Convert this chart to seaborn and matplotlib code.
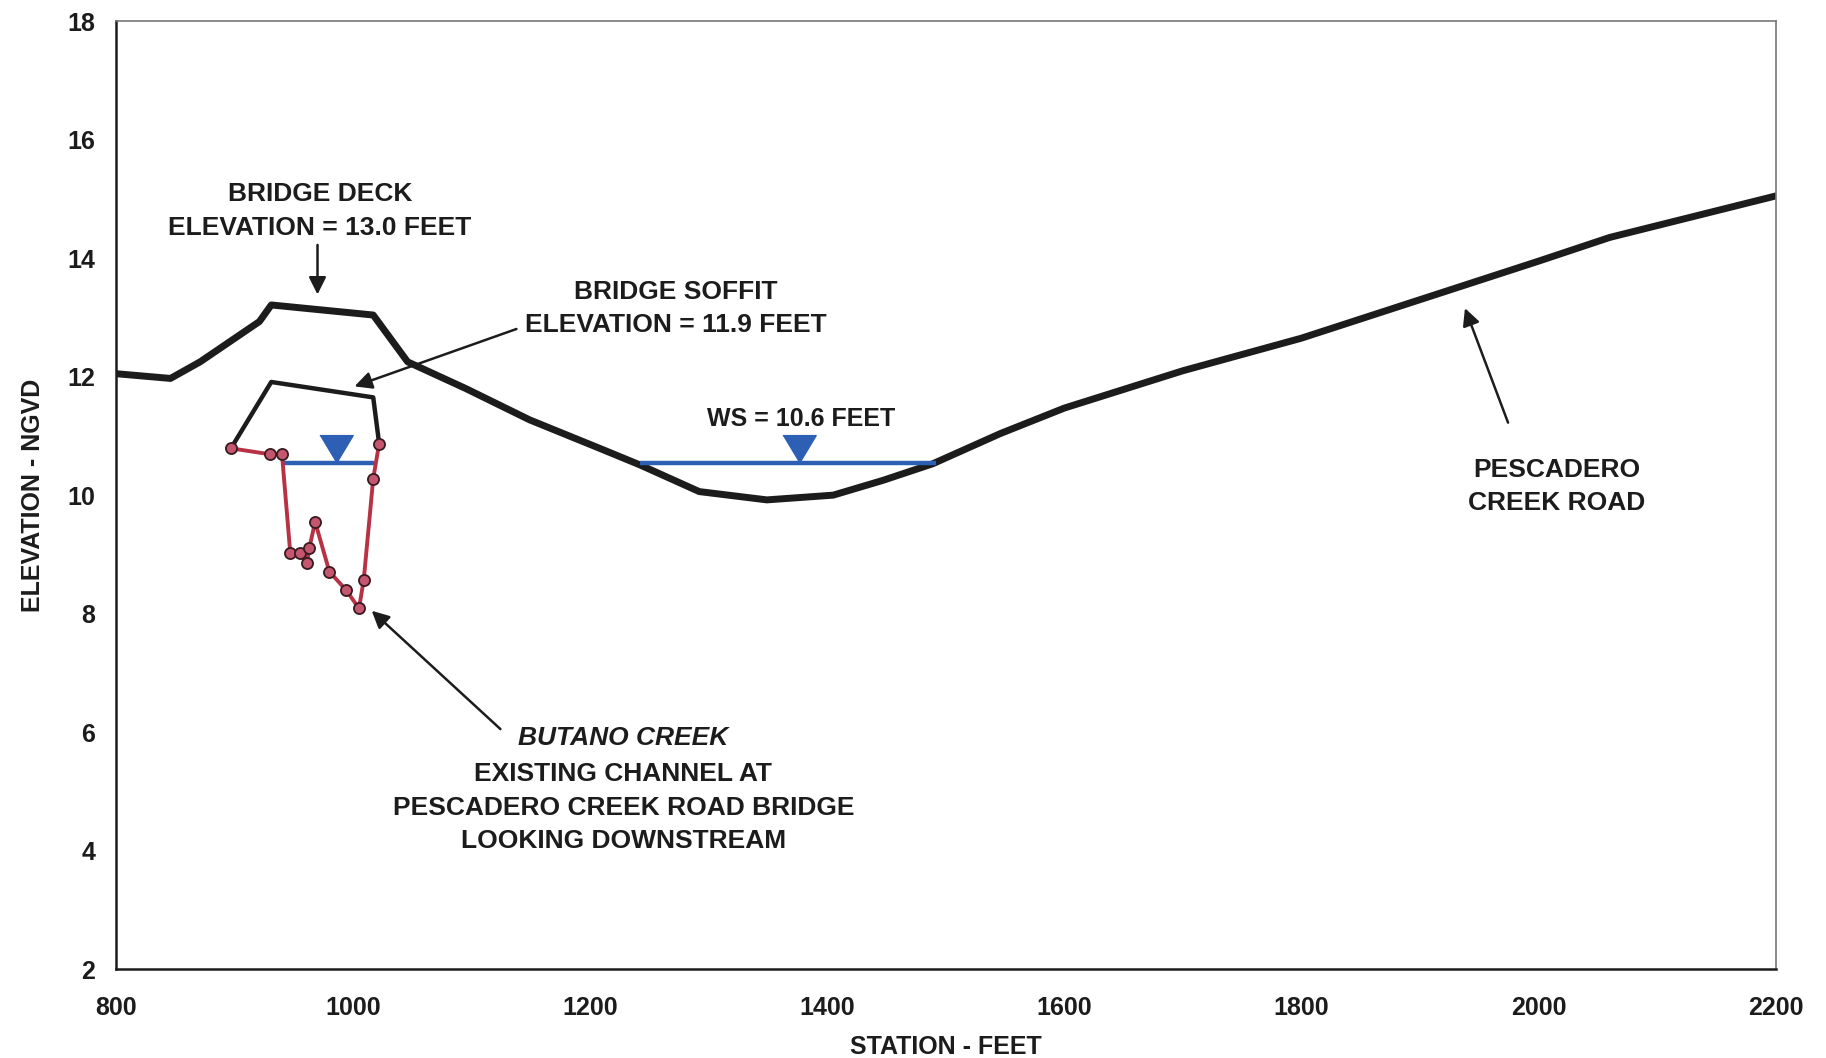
import numpy as np
import pandas as pd
import matplotlib
matplotlib.use('Agg')
import matplotlib.pyplot as plt
import seaborn as sns

# road profile (pescadero creek road, incl. bridge deck)
road_x = [800, 846, 871, 921, 931, 1017, 1046, 1095, 1149, 1208, 1242, 1292, 1349, 1405,
          1447, 1489, 1546, 1600, 1700, 1800, 1900, 2000, 2060, 2200]
road_y = [12.05, 11.97, 12.25, 12.93, 13.21, 13.04, 12.25, 11.8, 11.27, 10.79, 10.51, 10.06,
          9.92, 10.0, 10.25, 10.53, 11.04, 11.47, 12.1, 12.65, 13.3, 13.95, 14.35, 15.05]

# bridge soffit
soffit_x = [897, 931, 1017, 1022]
soffit_y = [10.79, 11.91, 11.65, 10.87]

# butano creek channel survey points
chan_x = [897, 930, 940, 947, 955, 961, 963, 968, 980, 994, 1005, 1009, 1017, 1022]
chan_y = [10.79, 10.69, 10.70, 9.03, 9.03, 8.85, 9.10, 9.55, 8.71, 8.40, 8.09, 8.57, 10.28, 10.87]

# water surface lines
ws_bridge_x = [941, 1018]
ws_road_x = [1242, 1492]
ws_level = 10.55
ws_marker_x = [986, 1376]

x_ticks = list(range(800, 2201, 200))
y_ticks = list(range(2, 19, 2))

sns.set_style('white')
plt.rcParams['font.family'] = ['Liberation Sans', 'DejaVu Sans']
plt.rcParams['font.weight'] = 'bold'

fig = plt.figure(figsize=(18.26, 10.58), dpi=100)
ax = fig.add_axes([0.0635, 0.084, 0.909, 0.896])

black = '#1c1c1c'
blue = '#2d5fb4'
red = '#b83245'

road = pd.DataFrame({'x': road_x, 'y': road_y})
sns.lineplot(data=road, x='x', y='y', sort=False, color=black, lw=5, ax=ax)
sof = pd.DataFrame({'x': soffit_x, 'y': soffit_y})
sns.lineplot(data=sof, x='x', y='y', sort=False, color=black, lw=3.2, ax=ax)

ax.plot(ws_bridge_x, [ws_level] * 2, color=blue, lw=3.2, solid_capstyle='butt')
ax.plot(ws_road_x, [ws_level] * 2, color=blue, lw=3.2, solid_capstyle='butt')
tri = [(-0.6, 0.5), (0.6, 0.5), (0.0, -0.5)]
ax.plot(ws_marker_x, [ws_level + 0.23] * 2, ls='none', marker=tri, ms=24,
        color=blue, mec=blue)

chan = pd.DataFrame({'x': chan_x, 'y': chan_y})
sns.lineplot(data=chan, x='x', y='y', sort=False, color=red, lw=2.8, ax=ax)
ax.plot(chan_x, chan_y, ls='none', marker='o', ms=8, mfc='#c4566f', mec='#3a1a1f', mew=1.3)

# annotations
fs = 19
arrow = dict(arrowstyle='-|>', color=black, lw=1.8, mutation_scale=26)
ax.text(972, 14.8, 'BRIDGE DECK\nELEVATION = 13.0 FEET', ha='center', va='center',
        fontsize=fs, fontweight='bold', linespacing=1.5, color=black)
ax.annotate('', xy=(970, 13.34), xytext=(970, 14.27), arrowprops=arrow)

ax.text(1272, 13.15, 'BRIDGE SOFFIT\nELEVATION = 11.9 FEET', ha='center', va='center',
        fontsize=fs, fontweight='bold', linespacing=1.5, color=black)
ax.annotate('', xy=(999, 11.82), xytext=(1140, 12.82), arrowprops=arrow)

ax.text(1378, 11.28, 'WS = 10.6 FEET', ha='center', va='center',
        fontsize=18, fontweight='bold', color=black)

ax.text(2015, 10.15, 'PESCADERO\nCREEK ROAD', ha='center', va='center',
        fontsize=fs, fontweight='bold', linespacing=1.5, color=black)
ax.annotate('', xy=(1937, 13.2), xytext=(1975, 11.18), arrowprops=arrow)

ax.text(1228, 5.90, 'BUTANO CREEK', ha='center', va='center',
        fontsize=fs, fontweight='bold', style='italic', color=black)
ax.text(1228, 4.72, 'EXISTING CHANNEL AT\nPESCADERO CREEK ROAD BRIDGE\nLOOKING DOWNSTREAM',
        ha='center', va='center', fontsize=fs, fontweight='bold', linespacing=1.5, color=black)
ax.annotate('', xy=(1014, 8.08), xytext=(1126, 6.02), arrowprops=arrow)

ax.set_xlim(800, 2200)
ax.set_ylim(2, 18)
ax.set_xticks(x_ticks)
ax.set_yticks(y_ticks)
ax.tick_params(axis='both', direction='out', length=7, width=1.2, colors=black,
               labelsize=18)
ax.tick_params(axis='x', pad=12)
ax.tick_params(axis='y', pad=8)
for lab in ax.get_xticklabels() + ax.get_yticklabels():
    lab.set_fontweight('bold')

ax.set_xlabel('STATION - FEET', fontsize=18, fontweight='bold', color=black, labelpad=11)
ax.set_ylabel('ELEVATION - NGVD', fontsize=18, fontweight='bold', color=black, labelpad=16)

for s in ['left', 'bottom']:
    ax.spines[s].set_color(black)
    ax.spines[s].set_linewidth(1.8)
for s in ['top', 'right']:
    ax.spines[s].set_color('#777777')
    ax.spines[s].set_linewidth(1.2)

fig.savefig('out.png', dpi=100)
